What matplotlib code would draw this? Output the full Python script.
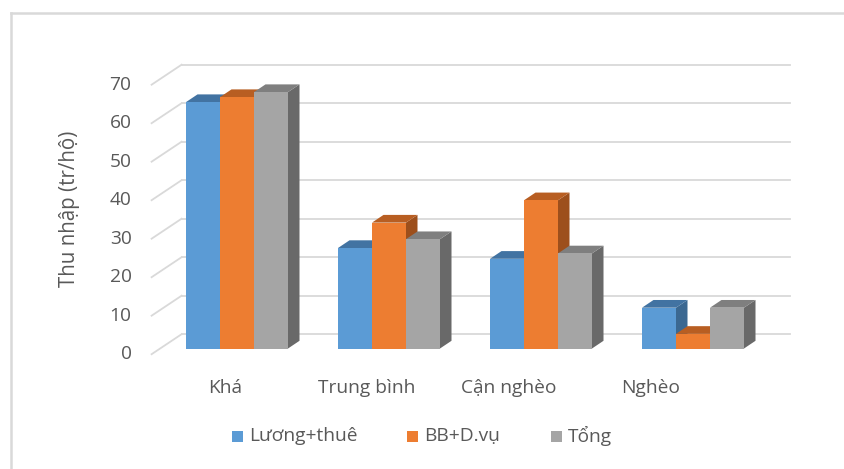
import matplotlib
matplotlib.use("Agg")
import matplotlib.pyplot as plt
from matplotlib.patches import Polygon, Rectangle
from matplotlib.lines import Line2D

# ---- data ----
categories = ["Khá", "Trung bình", "Cận nghèo", "Nghèo"]
series_names = ["Lương+thuê", "BB+D.vụ", "Tổng"]
luong_thue = [64.0, 26.1, 23.3, 10.6]
bb_dvu = [65.3, 32.7, 38.5, 3.8]
tong = [66.6, 28.4, 24.7, 10.6]
y_ticks = [0, 10, 20, 30, 40, 50, 60, 70]
y_label = "Thu nhập (tr/hộ)"

series_values = [luong_thue, bb_dvu, tong]
front_colors = ["#5b9bd5", "#ed7d31", "#a5a5a5"]
top_colors = ["#4273a2", "#b85e22", "#7f7f7f"]
side_colors = ["#3b6891", "#9d4f1c", "#696969"]

W, H = 844, 469
fig = plt.figure(figsize=(W / 100, H / 100), dpi=100)
ax = fig.add_axes([0, 0, 1, 1])

# pixel scale of the data space (front plane of the bars)
px_per_cat = 152.0
px_per_val = 3.85
x0_px, y0_px = 237.0, 348.5
ax.set_xlim(-x0_px / px_per_cat, (W - x0_px) / px_per_cat)
ax.set_ylim((y0_px - H) / px_per_val, y0_px / px_per_val)
ax.axis("off")

def off(dx_px, dy_px):
    return dx_px / px_per_cat, dy_px / px_per_val

# oblique depth offsets (pixels, y up)
bx, by = off(21.5, 14.3)     # back wall relative to bar front plane
fx, fy = off(-8.5, -5.7)     # floor front edge relative to bar front plane
dx, dy = off(11.5, 7.7)      # bar depth

x_left = -0.506
x_right = 3.497
grid_c = "#d9d9d9"
text_c = "#595959"
font = ["Open Sans", "DejaVu Sans"]

# back-wall gridlines and side-wall diagonals
for v in y_ticks:
    ax.add_line(Line2D([x_left + bx, x_right + bx], [v + by, v + by],
                       color=grid_c, lw=1.3, zorder=1))
    ax.add_line(Line2D([x_left + fx, x_left + bx], [v + fy, v + by],
                       color=grid_c, lw=1.3, zorder=1))
    ax.text(x_left + fx - 20 / px_per_cat, v + fy, str(v), ha="right",
            va="center", fontsize=13.8, color=text_c, family=font)

# 3D columns
n_series = len(series_values)
bar_w = 34.0 / px_per_cat
for ci in range(len(categories)):
    left0 = ci - n_series * bar_w / 2
    for si in range(n_series):
        v = series_values[si][ci]
        xl = left0 + si * bar_w
        xr = xl + bar_w
        z = 2 + ci * 10 + si
        side = Polygon([(xr, 0), (xr + dx, dy), (xr + dx, v + dy), (xr, v)],
                       closed=True, fc=side_colors[si], ec="none", zorder=z)
        top = Polygon([(xl, v), (xr, v), (xr + dx, v + dy), (xl + dx, v + dy)],
                      closed=True, fc=top_colors[si], ec="none", zorder=z)
        front = Rectangle((xl, 0), bar_w, v, fc=front_colors[si], ec="none",
                          zorder=z)
        for p in (side, top, front):
            ax.add_patch(p)

# category labels along the floor front edge
for ci, name in enumerate(categories):
    ax.text(-0.079 + 0.934 * ci, -10.3, name, ha="center", va="center",
            fontsize=13.8, color=text_c, family=font)

# y axis title
fig.text(70 / W, 1 - 209 / H, y_label, rotation=90, ha="center", va="center",
         fontsize=14.8, color=text_c, family=font)

# legend
leg_y = 1 - 436 / H
leg_x = [232, 407, 551]
sq = 11
for si, name in enumerate(series_names):
    fig.patches.append(Rectangle((leg_x[si] / W, leg_y - sq / 2 / H), sq / W,
                                 sq / H, transform=fig.transFigure,
                                 fc=front_colors[si], ec="none"))
    fig.text((leg_x[si] + sq + 6) / W, leg_y, name, ha="left", va="center",
             fontsize=13.8, color=text_c, family=font)

# chart area border
fig.lines.append(Line2D([11 / W, 11 / W], [1 - 13 / H, 0], transform=fig.transFigure,
                        color="#d9d9d9", lw=1.8))
fig.lines.append(Line2D([11 / W, 1], [1 - 13 / H, 1 - 13 / H],
                        transform=fig.transFigure, color="#d9d9d9", lw=1.8))

fig.savefig("out.png", dpi=100)
